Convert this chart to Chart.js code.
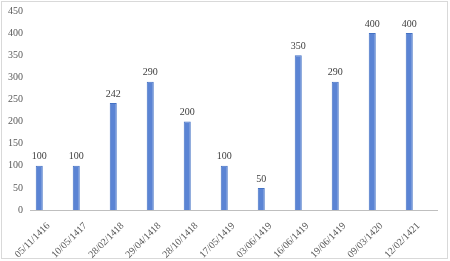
<!DOCTYPE html>
<html><head><meta charset="utf-8">
<script src="https://cdn.jsdelivr.net/npm/chart.js@4/dist/chart.umd.min.js"></script>
<style>
html,body{margin:0;padding:0;background:#fff;}
canvas{position:absolute;left:0;top:0;display:block;}
#frame{position:absolute;left:1px;top:1px;width:447px;height:258px;box-sizing:border-box;border:1px solid #d9d9d9;pointer-events:none;}
</style></head><body>
<canvas id="c" width="450" height="261"></canvas>
<div id="frame"></div>
<script>
const categories = ["05/11/1416","10/05/1417","28/02/1418","29/04/1418","28/10/1418","17/05/1419","03/06/1419","16/06/1419","19/06/1419","09/03/1420","12/02/1421"];
const values = [100,100,242,290,200,100,50,350,290,400,400];
// second (empty) series of the original workbook, which reserves space next to each bar
const emptySeries = [null,null,null,null,null,null,null,null,null,null,null];
const yTicks = [0,50,100,150,200,250,300,350,400,450];

const labelPlugin = {
  id:'barLabels',
  afterDatasetsDraw(chart){
    const ctx = chart.ctx;
    const meta = chart.getDatasetMeta(0);
    ctx.save();
    ctx.font = '10px "Liberation Serif", "Times New Roman", serif';
    ctx.fillStyle = '#404040';
    ctx.textAlign = 'center';
    ctx.textBaseline = 'bottom';
    meta.data.forEach((bar,i)=>{
      ctx.fillText(String(values[i]), bar.x, bar.y - 4);
    });
    ctx.restore();
  }
};

new Chart(document.getElementById('c'), {
  type:'bar',
  data:{labels:categories, datasets:[
    {data:values, backgroundColor:'#5b84d4', borderColor:'#4472c4', borderWidth:1, barPercentage:0.38, categoryPercentage:1},
    {data:emptySeries, backgroundColor:'#ed7d31', barPercentage:0.38, categoryPercentage:1}
  ]},
  options:{
    responsive:false, animation:false,
    layout:{padding:{left:0, right:13, top:11, bottom:0}},
    plugins:{legend:{display:false}, tooltip:{enabled:false}},
    scales:{
      x:{
        grid:{display:false, drawTicks:false},
        border:{display:true, color:'#bfbfbf', width:1},
        ticks:{color:'#595959', minRotation:45, maxRotation:45, autoSkip:false, font:{family:'"Liberation Serif", serif', size:10}, padding:10},
        afterFit(s){ s.height = 51; s.paddingLeft = 0; s.paddingRight = 0; }
      },
      y:{
        min:0, max:450,
        afterBuildTicks(s){ s.ticks = yTicks.map(v=>({value:v})); },
        grid:{display:false, drawTicks:false},
        border:{display:false},
        ticks:{color:'#595959', font:{family:'"Liberation Serif", serif', size:10}, padding:7},
        afterFit(s){ s.width = 30; s.paddingTop = 0; s.paddingBottom = 0; }
      }
    }
  },
  plugins:[labelPlugin]
});
</script>
</body></html>
